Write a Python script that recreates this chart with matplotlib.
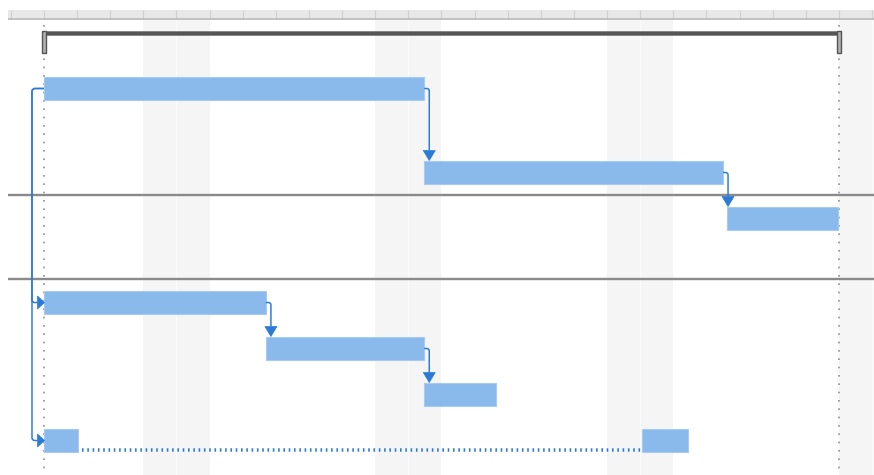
import matplotlib
matplotlib.use("Agg")
import matplotlib.pyplot as plt
from matplotlib.patches import Rectangle, Polygon, PathPatch
from matplotlib.path import Path
from matplotlib.lines import Line2D
from matplotlib.transforms import IdentityTransform
import numpy as np

plt.rcParams["lines.scale_dashes"] = False

# ---------------- data (days from project start) ----------------
project_start = 0.0
project_finish = 24.0
task_start = [0.0, 11.48, 20.62, 0.0, 6.70, 11.48, 0.0]
task_finish = [11.48, 20.50, 23.98, 6.70, 11.48, 13.66, 19.45]
# split tasks: task index -> (gap begins, gap ends)
split_gaps = {6: (1.04, 18.04)}
# dependencies: (predecessor, successor, type)
dependencies = [(0, 1, "FS"), (1, 2, "FS"), (3, 4, "FS"), (4, 5, "FS"),
                (0, 3, "SS"), (0, 6, "SS")]
weekend_starts = [3, 10, 17, 24]
header_days = list(range(-1, 26))
separator_before_task = [2, 3]

# ---------------- layout / style ----------------
W, H = 874, 475
XMIN, XMAX = -1.328, 25.057
CHART_LEFT = -1.087
HEADER_TOP, HEADER_BOT = 10, 20
summary_row = (20, 45)
row_heights = [84, 46, 84, 46, 46, 46, 46]
BAR_OFF, BAR_H = 12, 23
BAR_FC, BAR_EC = "#8ab9eb", "#a6cbf0"
BLUE = "#2b7bd6"
PT = 0.72  # points per pixel

fig = plt.figure(figsize=(W / 100, H / 100), dpi=100)
ax = fig.add_axes([0, 0, 1, 1])
ax.set_xlim(XMIN, XMAX)
ax.set_ylim(H, 0)
ax.axis("off")

row_tops = list(summary_row[0] + summary_row[1] + np.concatenate([[0], np.cumsum(row_heights)[:-1]]))
bar_top = [t + BAR_OFF for t in row_tops]
bar_mid = [t + BAR_H / 2 for t in bar_top]

# weekend shading
for w in weekend_starts:
    for d in (w, w + 1):
        ax.add_patch(Rectangle((d, HEADER_BOT), 1, H - HEADER_BOT, fc="#f5f5f5", ec="none", zorder=0))
    ax.vlines(w + 1, HEADER_BOT, H, color="#fbfbfb", lw=0.6, zorder=0.5)

# header
ax.add_patch(Rectangle((CHART_LEFT, HEADER_TOP), XMAX - CHART_LEFT, HEADER_BOT - HEADER_TOP,
                       fc="#e8e8e8", ec="none", zorder=1))
ax.vlines(header_days, HEADER_TOP, HEADER_BOT - 1, color="#d0d0d0", lw=0.8, zorder=1.5)
ax.hlines(HEADER_BOT - 0.8, CHART_LEFT, XMAX, color="#bdbdbd", lw=1.3, zorder=1.6)

# project start / finish dotted lines
for d in (project_start, project_finish):
    ax.add_line(Line2D([d, d], [25, H], color="#8f8f9a", lw=1.2, dashes=(1.2, 4.8), zorder=2))

# separator lines
for i in separator_before_task:
    ax.hlines(row_tops[i], CHART_LEFT, XMAX, color="#8a8a8a", lw=1.7, zorder=2)

# summary bar
s_top = summary_row[0] + 11
ax.add_patch(Rectangle((project_start, s_top), project_finish - project_start, 4,
                       fc="#555555", ec="#7a7a7a", lw=0.5, zorder=3))
cap_w = 3.2 / 33.125
for d in (project_start, project_finish):
    ax.add_patch(Rectangle((d - cap_w / 2, s_top), cap_w, 22, fc="#b0b0b0", ec="#555555",
                           lw=1.0, zorder=3.5))

# task bars
for i in range(len(task_start)):
    if i in split_gaps:
        g0, g1 = split_gaps[i]
        segs = [(task_start[i], g0), (g1, task_finish[i])]
    else:
        segs = [(task_start[i], task_finish[i])]
    for s, f in segs:
        ax.add_patch(Rectangle((s, bar_top[i]), f - s, BAR_H, fc=BAR_FC, ec=BAR_EC, lw=0.8, zorder=4))

fig.canvas.draw()
T = ax.transData


def px(x, y):
    return T.transform((x, y))


def rounded(points, r=3.0):
    verts = [points[0]]
    codes = [Path.MOVETO]
    for k in range(1, len(points) - 1):
        p0, p1, p2 = map(np.asarray, (points[k - 1], points[k], points[k + 1]))
        v1 = p0 - p1
        v2 = p2 - p1
        n1 = np.linalg.norm(v1)
        n2 = np.linalg.norm(v2)
        rr = min(r, n1 / 2, n2 / 2)
        a = p1 + v1 / n1 * rr if n1 > 0 else p1
        b = p1 + v2 / n2 * rr if n2 > 0 else p1
        verts += [tuple(a), tuple(p1), tuple(b)]
        codes += [Path.LINETO, Path.CURVE3, Path.CURVE3]
    verts.append(points[-1])
    codes.append(Path.LINETO)
    return Path(verts, codes)


for p, s, kind in dependencies:
    if kind == "FS":
        x0, y0 = px(task_finish[p], bar_mid[p])
        xv = x0 + 5
        _, ytop = px(task_start[s], bar_top[s])
        tip = ytop + 0.5
        base = tip + 10
        path = rounded([(x0, y0), (xv, y0), (xv, base)])
        tri = [(xv - 6, base), (xv + 6, base), (xv, tip)]
    else:
        x0, y0 = px(task_start[p], bar_mid[p])
        xv = x0 - 12
        xt, ys = px(task_start[s], bar_mid[s])
        xt += 0.5
        path = rounded([(x0, y0), (xv, y0), (xv, ys), (xt - 7, ys)])
        tri = [(xt - 7, ys + 6.5), (xt - 7, ys - 6.5), (xt, ys)]
    ax.add_patch(PathPatch(path, fill=False, ec=BLUE, lw=1.5 * PT, transform=IdentityTransform(),
                           zorder=5, capstyle="butt", joinstyle="round"))
    ax.add_patch(Polygon(tri, closed=True, fc=BLUE, ec=BLUE, lw=0.5, transform=IdentityTransform(),
                         zorder=5.5))

# split connector (dotted)
for i, (g0, g1) in split_gaps.items():
    xa, yl = px(g0, bar_top[i] + BAR_H - 2)
    xb, _ = px(g1, bar_top[i] + BAR_H - 2)
    ax.add_line(Line2D([xa + 4, xb], [yl, yl], color=BLUE, lw=3.5 * PT, dashes=(1.6 * PT, 3.7 * PT),
                       solid_capstyle="butt", dash_capstyle="butt", transform=IdentityTransform(), zorder=5))

fig.savefig("out.png", dpi=100)
